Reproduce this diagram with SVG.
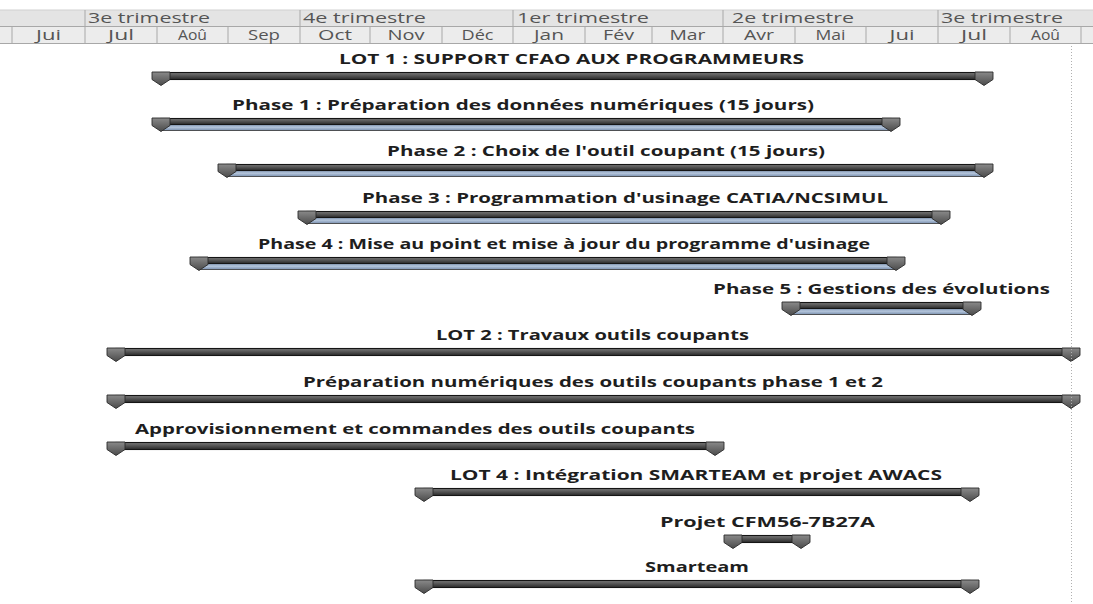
<svg xmlns="http://www.w3.org/2000/svg" width="1093" height="604" viewBox="0 0 1093 604">
<style>
.hdr{font-family:"Open Sans","Liberation Sans",sans-serif;font-size:14px;fill:#555}
.mo{text-anchor:middle}
.lbl{font-family:"Open Sans","Liberation Sans",sans-serif;font-size:14px;font-weight:bold;fill:#1e1e1e}
.sep{stroke:#a8a8a8;stroke-width:1}
.dark{fill:url(#gDark);stroke:#151515;stroke-width:1.1}
.blue{fill:url(#gBlue);stroke:#333;stroke-width:0.8}
.mk{fill:url(#gMk);stroke:#2a2a2a;stroke-width:0.9}
</style>
<defs>
<linearGradient id="gDark" x1="0" y1="0" x2="0" y2="1">
<stop offset="0" stop-color="#7a7a7a"/><stop offset="0.45" stop-color="#555"/><stop offset="1" stop-color="#2a2a2a"/>
</linearGradient>
<linearGradient id="gBlue" x1="0" y1="0" x2="0" y2="1">
<stop offset="0" stop-color="#7b91b0"/><stop offset="0.5" stop-color="#b3c4da"/><stop offset="1" stop-color="#7b91b0"/>
</linearGradient>
<linearGradient id="gMk" x1="0" y1="0" x2="0" y2="1">
<stop offset="0" stop-color="#8a8a8a"/><stop offset="1" stop-color="#4a4a4a"/>
</linearGradient>
<path id="mk" class="mk" d="M0,0 H18 V7.5 L9,13.5 L0,7.5 Z"/>
</defs>
<rect width="1093" height="604" fill="#fff"/>
<g id="timescale">
<rect x="0" y="10" width="1093" height="16" fill="#e4e4e4"/>
<rect x="0" y="26" width="1093" height="17" fill="#ececec"/>
<line x1="0" y1="10" x2="1093" y2="10" stroke="#d0d0d0"/>
<line class="sep" x1="0" y1="26.5" x2="1093" y2="26.5"/>
<line class="sep" x1="0" y1="43.5" x2="1093" y2="43.5"/>
<g class="sep">
<line x1="85" y1="10" x2="85" y2="26"/><line x1="300" y1="10" x2="300" y2="26"/><line x1="513" y1="10" x2="513" y2="26"/><line x1="723" y1="10" x2="723" y2="26"/><line x1="938" y1="10" x2="938" y2="26"/>
<line x1="12" y1="27" x2="12" y2="43"/><line x1="85" y1="27" x2="85" y2="43"/><line x1="157" y1="27" x2="157" y2="43"/><line x1="228" y1="27" x2="228" y2="43"/><line x1="300" y1="27" x2="300" y2="43"/><line x1="370" y1="27" x2="370" y2="43"/><line x1="442" y1="27" x2="442" y2="43"/><line x1="513" y1="27" x2="513" y2="43"/><line x1="585" y1="27" x2="585" y2="43"/><line x1="652" y1="27" x2="652" y2="43"/><line x1="723" y1="27" x2="723" y2="43"/><line x1="795" y1="27" x2="795" y2="43"/><line x1="866" y1="27" x2="866" y2="43"/><line x1="938" y1="27" x2="938" y2="43"/><line x1="1010" y1="27" x2="1010" y2="43"/><line x1="1081" y1="27" x2="1081" y2="43"/>
</g>
<text class="hdr" x="88" y="23" textLength="122" lengthAdjust="spacingAndGlyphs">3e trimestre</text>
<text class="hdr" x="303" y="23" textLength="123" lengthAdjust="spacingAndGlyphs">4e trimestre</text>
<text class="hdr" x="517" y="23" textLength="132" lengthAdjust="spacingAndGlyphs">1er trimestre</text>
<text class="hdr" x="732" y="23" textLength="122" lengthAdjust="spacingAndGlyphs">2e trimestre</text>
<text class="hdr" x="941" y="23" textLength="122" lengthAdjust="spacingAndGlyphs">3e trimestre</text>
<text class="hdr mo" x="48.5" y="40" textLength="25" lengthAdjust="spacingAndGlyphs">Jui</text>
<text class="hdr mo" x="121" y="40" textLength="26" lengthAdjust="spacingAndGlyphs">Jul</text>
<text class="hdr mo" x="192.5" y="40" textLength="29" lengthAdjust="spacingAndGlyphs">Aoû</text>
<text class="hdr mo" x="264" y="40" textLength="32" lengthAdjust="spacingAndGlyphs">Sep</text>
<text class="hdr mo" x="335" y="40" textLength="34" lengthAdjust="spacingAndGlyphs">Oct</text>
<text class="hdr mo" x="406" y="40" textLength="37" lengthAdjust="spacingAndGlyphs">Nov</text>
<text class="hdr mo" x="477.5" y="40" textLength="32" lengthAdjust="spacingAndGlyphs">Déc</text>
<text class="hdr mo" x="549" y="40" textLength="30" lengthAdjust="spacingAndGlyphs">Jan</text>
<text class="hdr mo" x="618.5" y="40" textLength="31" lengthAdjust="spacingAndGlyphs">Fév</text>
<text class="hdr mo" x="687.5" y="40" textLength="36" lengthAdjust="spacingAndGlyphs">Mar</text>
<text class="hdr mo" x="759" y="40" textLength="30" lengthAdjust="spacingAndGlyphs">Avr</text>
<text class="hdr mo" x="830.5" y="40" textLength="30" lengthAdjust="spacingAndGlyphs">Mai</text>
<text class="hdr mo" x="902" y="40" textLength="25" lengthAdjust="spacingAndGlyphs">Jui</text>
<text class="hdr mo" x="974" y="40" textLength="26" lengthAdjust="spacingAndGlyphs">Jul</text>
<text class="hdr mo" x="1045.5" y="40" textLength="29" lengthAdjust="spacingAndGlyphs">Aoû</text>
</g>
<g id="connectors"></g>
<g id="lot1">
<text class="lbl" x="339" y="64" textLength="465" lengthAdjust="spacingAndGlyphs">LOT 1 : SUPPORT CFAO AUX PROGRAMMEURS</text>
<rect class="dark" x="161" y="72.5" width="823" height="7"/>
<use href="#mk" x="152" y="72"/><use href="#mk" x="975" y="72"/>
</g>
<g id="phase1">
<text class="lbl" x="232" y="110" textLength="582" lengthAdjust="spacingAndGlyphs">Phase 1 : Préparation des données numériques (15 jours)</text>
<rect class="blue" x="161" y="124" width="730" height="6.5"/>
<rect class="dark" x="161" y="118.5" width="730" height="6"/>
<use href="#mk" x="152" y="118"/><use href="#mk" x="882" y="118"/>
</g>
<g id="phase2">
<text class="lbl" x="387" y="156" textLength="438" lengthAdjust="spacingAndGlyphs">Phase 2 : Choix de l'outil coupant (15 jours)</text>
<rect class="blue" x="227" y="170" width="757" height="6.5"/>
<rect class="dark" x="227" y="164.5" width="757" height="6"/>
<use href="#mk" x="218" y="164"/><use href="#mk" x="975" y="164"/>
</g>
<g id="phase3">
<text class="lbl" x="362" y="203" textLength="526" lengthAdjust="spacingAndGlyphs">Phase 3 : Programmation d'usinage CATIA/NCSIMUL</text>
<rect class="blue" x="307" y="217" width="634" height="6.5"/>
<rect class="dark" x="307" y="211.5" width="634" height="6"/>
<use href="#mk" x="298" y="211"/><use href="#mk" x="932" y="211"/>
</g>
<g id="phase4">
<text class="lbl" x="258" y="249" textLength="612" lengthAdjust="spacingAndGlyphs">Phase 4 : Mise au point et mise à jour du programme d'usinage</text>
<rect class="blue" x="199" y="263" width="697" height="6.5"/>
<rect class="dark" x="199" y="257.5" width="697" height="6"/>
<use href="#mk" x="190" y="257"/><use href="#mk" x="887" y="257"/>
</g>
<g id="phase5">
<text class="lbl" x="713" y="294" textLength="337" lengthAdjust="spacingAndGlyphs">Phase 5 : Gestions des évolutions</text>
<rect class="blue" x="791" y="308" width="181" height="6.5"/>
<rect class="dark" x="791" y="302.5" width="181" height="6"/>
<use href="#mk" x="782" y="302"/><use href="#mk" x="963" y="302"/>
</g>
<g id="lot2">
<text class="lbl" x="436" y="340" textLength="313" lengthAdjust="spacingAndGlyphs">LOT 2 : Travaux outils coupants</text>
<rect class="dark" x="116" y="348.5" width="955" height="7"/>
<use href="#mk" x="107" y="348"/><use href="#mk" x="1062" y="348"/>
</g>
<g id="prep-outils">
<text class="lbl" x="303" y="387" textLength="580" lengthAdjust="spacingAndGlyphs">Préparation numériques des outils coupants phase 1 et 2</text>
<rect class="dark" x="116" y="395.5" width="955" height="7"/>
<use href="#mk" x="107" y="395"/><use href="#mk" x="1062" y="395"/>
</g>
<g id="approvisionnement">
<text class="lbl" x="135" y="434" textLength="560" lengthAdjust="spacingAndGlyphs">Approvisionnement et commandes des outils coupants</text>
<rect class="dark" x="116" y="442.5" width="599" height="7"/>
<use href="#mk" x="107" y="442"/><use href="#mk" x="706" y="442"/>
</g>
<g id="lot4">
<text class="lbl" x="450" y="480" textLength="492" lengthAdjust="spacingAndGlyphs">LOT 4 : Intégration SMARTEAM et projet AWACS</text>
<rect class="dark" x="424" y="488.5" width="546" height="7"/>
<use href="#mk" x="415" y="488"/><use href="#mk" x="961" y="488"/>
</g>
<g id="cfm56">
<text class="lbl" x="660" y="527" textLength="215" lengthAdjust="spacingAndGlyphs">Projet CFM56-7B27A</text>
<rect class="dark" x="733" y="535.5" width="68" height="7"/>
<use href="#mk" x="724" y="535"/><use href="#mk" x="792" y="535"/>
</g>
<g id="smarteam">
<text class="lbl" x="645" y="572" textLength="104" lengthAdjust="spacingAndGlyphs">Smarteam</text>
<rect class="dark" x="424" y="580.5" width="546" height="7"/>
<use href="#mk" x="415" y="580"/><use href="#mk" x="961" y="580"/>
</g>
<g id="status-line">
<line x1="1071.5" y1="46" x2="1071.5" y2="604" stroke="#b0b0b0" stroke-width="1" stroke-dasharray="1 2"/>
</g>
</svg>
